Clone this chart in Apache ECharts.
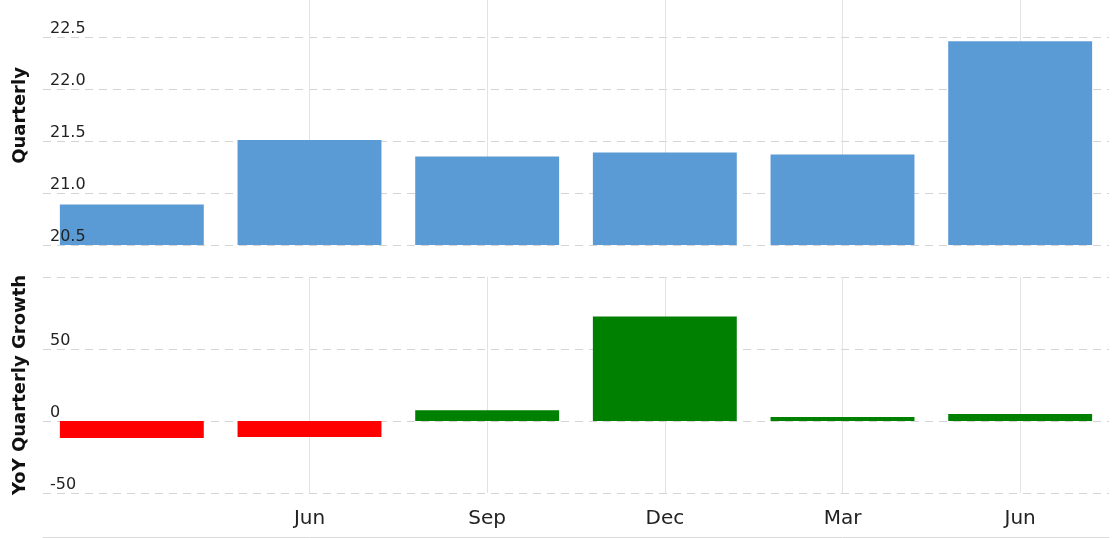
<!DOCTYPE html>
<html>
<head>
<meta charset="utf-8">
<title>Quarterly</title>
<script src="https://cdn.jsdelivr.net/npm/echarts@6/dist/echarts.min.js"></script>
<style>
  html, body { margin: 0; padding: 0; background: #fff; }
  #main { width: 1117px; height: 538px; }
</style>
</head>
<body>
<div id="main"></div>
<script>
// quarters along the x axis (first one carries no label)
var quarters = ['Mar', 'Jun', 'Sep', 'Dec', 'Mar', 'Jun'];
// quarterly values
var quarterly = [20.89, 21.51, 21.35, 21.39, 21.37, 22.46];
// year over year quarterly growth, %
var yoyGrowth = [-11.8, -11.1, 7.5, 72.5, 2.8, 4.9];

var topTicks = { min: 20.5, max: 22.856, interval: 0.5 };
var bottomTicks = { min: -50, max: 100, interval: 50 };

var fontFamily = 'DejaVu Sans';
var gridDash = { color: '#d4d4d4', type: [8, 6], width: 1 };
var vLine = { color: '#e3e3e3', width: 1 };

var chart = echarts.init(document.getElementById('main'));

function skipFirst(index) { return index > 0; }

var option = {
  animation: false,
  backgroundColor: '#fff',
  textStyle: { fontFamily: fontFamily },
  grid: [
    { left: 43, right: 8, top: 0, bottom: 293 },
    { left: 43, right: 8, top: 277, bottom: 45 }
  ],
  xAxis: [
    {
      type: 'category', gridIndex: 0, data: quarters,
      axisLine: { show: false, onZero: false }, axisTick: { show: false }, axisLabel: { show: false },
      splitLine: { show: true, interval: skipFirst, alignWithLabel: true, lineStyle: vLine }
    },
    {
      type: 'category', gridIndex: 1, data: quarters, offset: 44, position: 'bottom',
      axisLine: { show: true, onZero: false, lineStyle: { color: '#d9d9d9', width: 1 } },
      axisTick: { show: false },
      axisLabel: {
        inside: true, margin: 8, interval: skipFirst,
        color: '#222', fontSize: 20, fontFamily: fontFamily
      },
      splitLine: { show: true, interval: skipFirst, alignWithLabel: true, lineStyle: vLine }
    }
  ],
  yAxis: [
    // grid lines + name, under the bars
    {
      type: 'value', gridIndex: 0, position: 'left',
      min: topTicks.min, max: topTicks.max, interval: topTicks.interval,
      name: 'Quarterly', nameLocation: 'middle', nameGap: 14,
      nameTextStyle: {
        fontSize: 18, fontWeight: 'bold', color: '#111', fontFamily: fontFamily,
        padding: [0, 0, 0, 14]
      },
      axisLine: { show: false }, axisTick: { show: false }, axisLabel: { show: false },
      splitLine: { show: true, showMaxLine: false, lineStyle: gridDash }
    },
    {
      type: 'value', gridIndex: 1, position: 'left',
      min: bottomTicks.min, max: bottomTicks.max, interval: bottomTicks.interval,
      name: 'YoY Quarterly Growth', nameLocation: 'middle', nameGap: 14,
      nameTextStyle: { fontSize: 18, fontWeight: 'bold', color: '#111', fontFamily: fontFamily },
      axisLine: { show: false }, axisTick: { show: false }, axisLabel: { show: false },
      splitLine: { show: true, lineStyle: gridDash }
    },
    // tick labels, drawn over the bars
    {
      type: 'value', gridIndex: 0, position: 'left', z: 10,
      min: topTicks.min, max: topTicks.max, interval: topTicks.interval,
      axisLine: { show: false }, axisTick: { show: false }, splitLine: { show: false },
      axisLabel: {
        inside: true, margin: 7, showMaxLabel: false, verticalAlign: 'bottom',
        color: '#222', fontSize: 16, fontFamily: fontFamily,
        formatter: function (v) { return v.toFixed(1); }
      }
    },
    {
      type: 'value', gridIndex: 1, position: 'left', z: 10,
      min: bottomTicks.min, max: bottomTicks.max, interval: bottomTicks.interval,
      axisLine: { show: false }, axisTick: { show: false }, splitLine: { show: false },
      axisLabel: {
        inside: true, margin: 7, showMaxLabel: false, verticalAlign: 'bottom',
        color: '#222', fontSize: 16, fontFamily: fontFamily
      }
    }
  ],
  series: [
    {
      name: 'Quarterly', type: 'bar', xAxisIndex: 0, yAxisIndex: 0,
      data: quarterly, barCategoryGap: '19%',
      itemStyle: { color: '#5b9bd5' }
    },
    {
      name: 'YoY Quarterly Growth', type: 'bar', xAxisIndex: 1, yAxisIndex: 1,
      data: yoyGrowth, barCategoryGap: '19%',
      itemStyle: {
        color: function (p) { return p.value < 0 ? '#ff0000' : '#008000'; }
      }
    }
  ]
};

chart.setOption(option);
</script>
</body>
</html>
